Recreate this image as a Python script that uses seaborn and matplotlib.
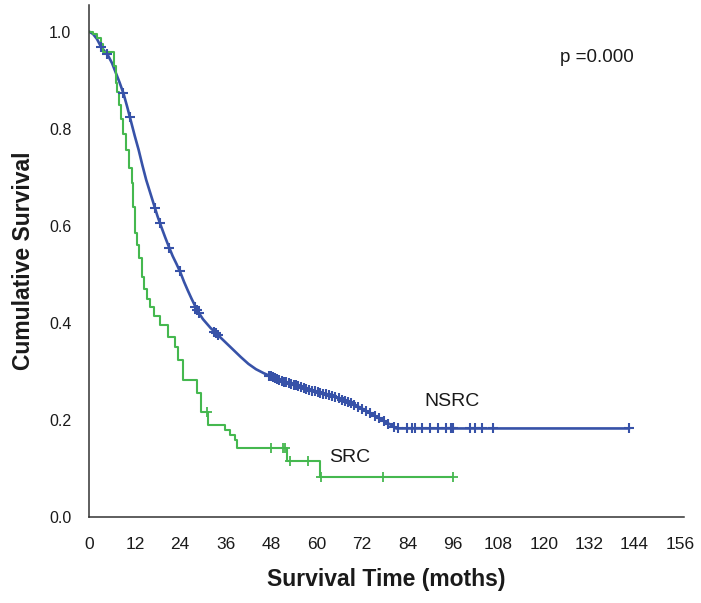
import numpy as np
import pandas as pd
import matplotlib
matplotlib.use("Agg")
import matplotlib.pyplot as plt
from matplotlib import font_manager
import seaborn as sns

# ---- data ----
nsrc_time = [0, 1, 2, 3, 4, 5, 6, 7, 8, 9, 10, 11, 12, 13, 14, 15, 16, 17, 18, 19, 20,
             21, 22, 23, 24, 25, 26, 27, 28, 29, 30, 32, 34, 36, 38, 40, 42, 44, 46, 48,
             50, 52, 54, 56, 58, 60, 62, 64, 66, 68, 70, 72, 74, 76, 78, 80, 81, 142.6]
nsrc_surv = [1.0, .995, .985, .97, .96, .95, .935, .915, .895, .873, .845, .815, .785, .757,
             .725, .695, .67, .645, .62, .598, .577, .557, .538, .522, .505, .485, .467, .45,
             .434, .42, .408, .39, .375, .36, .345, .33, .316, .305, .297, .29, .284, .278,
             .273, .268, .263, .258, .254, .25, .245, .238, .232, .224, .215, .206, .197,
             .189, .183, .183]
nsrc_censor = [3.2, 4.6, 9.0, 10.7, 17.3, 18.6, 21.1, 23.9, 28.0, 28.5, 29.0, 33.0, 33.5, 34.0,
               47.5, 48.0, 48.5, 49.0, 49.6, 50.2, 50.8, 51.5, 52.0, 52.6, 53.3, 54.0, 54.5,
               55.2, 56.0, 56.7, 57.3, 58.0, 58.8, 59.5, 60.3, 61.0, 61.8, 62.5, 63.4, 64.2,
               65.0, 65.8, 66.7, 67.5, 68.3, 69.2, 70.0, 71.0, 72.0, 73.0, 74.2, 75.5, 76.5,
               77.8, 79.0, 80.5, 81.5, 83.8, 85.1, 86.0, 87.8, 90.0, 92.1, 94.3, 95.6, 96.1,
               100.5, 101.8, 103.6, 106.6, 142.6]

src_time = [0, 1, 2, 3, 3.7, 6.6, 7.0, 7.3, 7.8, 8.4, 9.0, 9.8, 10.5, 11.2, 11.6, 12.0, 12.5,
            13.0, 13.8, 14.5, 15.2, 16.0, 17.0, 18.6, 20.8, 22.6, 23.4, 24.7, 28.3, 29.6, 31.2,
            35.8, 37.1, 38.4, 38.9, 52.1, 60.9, 96.1]
src_surv = [1.0, .995, .987, .975, .959, .93, .895, .876, .85, .82, .79, .756, .72, .688, .64,
            .585, .56, .535, .495, .47, .45, .434, .415, .396, .372, .351, .324, .283, .256,
            .217, .19, .18, .17, .16, .143, .115, .084, .084]
src_censor = [31.0, 48.1, 51.2, 51.6, 53.0, 57.8, 61.3, 77.6, 96.1]

x_ticks = [0, 12, 24, 36, 48, 60, 72, 84, 96, 108, 120, 132, 144, 156]
y_ticks = [0.0, 0.2, 0.4, 0.6, 0.8, 1.0]

BLUE = "#3752a8"
GREEN = "#45b84f"
TXT = "#1a1a1a"

sns.set_theme(style="white")
names = {f.name for f in font_manager.fontManager.ttflist}
base = "Liberation Sans" if "Liberation Sans" in names else "DejaVu Sans"
plt.rcParams["font.family"] = [base, "DejaVu Sans"]

fig = plt.figure(figsize=(7.01, 6.03), dpi=100)
ax = fig.add_axes([0.1275, 0.1421, 0.848, 0.8496])


def step_value(times, surv, t):
    idx = np.searchsorted(np.asarray(times), t, side="right") - 1
    return np.asarray(surv)[idx]


def interp_value(times, surv, t):
    return np.interp(t, times, surv)


nsrc_df = pd.DataFrame({"time": nsrc_time, "surv": nsrc_surv})
src_df = pd.DataFrame({"time": src_time, "surv": src_surv})

sns.lineplot(data=nsrc_df, x="time", y="surv", ax=ax, color=BLUE, lw=1.9,
             estimator=None, sort=False)
sns.lineplot(data=src_df, x="time", y="surv", ax=ax, color=GREEN, lw=1.5,
             estimator=None, sort=False, drawstyle="steps-post")

nc = pd.DataFrame({"time": nsrc_censor,
                   "surv": interp_value(nsrc_time, nsrc_surv, nsrc_censor)})
sc = pd.DataFrame({"time": src_censor,
                   "surv": step_value(src_time, src_surv, src_censor)})
sns.scatterplot(data=nc, x="time", y="surv", ax=ax, marker="+", s=45,
                color=BLUE, linewidth=1.5, zorder=5)
sns.scatterplot(data=sc, x="time", y="surv", ax=ax, marker="+", s=45,
                color=GREEN, linewidth=1.3, zorder=5)

ax.set_xlim(0, 157)
ax.set_ylim(0, 1.055)
ax.set_xticks(x_ticks)
ax.set_xticklabels([str(v) for v in x_ticks], fontsize=12.5, color=TXT)
ax.set_yticks(y_ticks)
ax.set_yticklabels([f"{v:.1f}" for v in y_ticks], fontsize=11.5, color=TXT)

for side in ["top", "right"]:
    ax.spines[side].set_visible(False)
for side in ["left", "bottom"]:
    ax.spines[side].set_color("#333333")
    ax.spines[side].set_linewidth(1.1)
ax.tick_params(axis="x", direction="out", length=8, width=1.2, color="#333333", pad=6)
ax.tick_params(axis="y", direction="out", length=8, width=1.2, color="#333333", pad=5)
ax.grid(False)

ax.set_xlabel("Survival Time (moths)", fontsize=16.5, fontweight="bold", color=TXT, labelpad=12)
ax.set_ylabel("Cumulative Survival", fontsize=16.5, fontweight="bold", color=TXT, labelpad=10)

ax.text(134, 0.946, "p =0.000", fontsize=13.5, color=TXT, ha="center", va="center")
ax.text(95.7, 0.238, "NSRC", fontsize=14, color=TXT, ha="center", va="center")
ax.text(68.8, 0.124, "SRC", fontsize=14, color=TXT, ha="center", va="center")

fig.savefig("out.png", dpi=100, facecolor="white")
